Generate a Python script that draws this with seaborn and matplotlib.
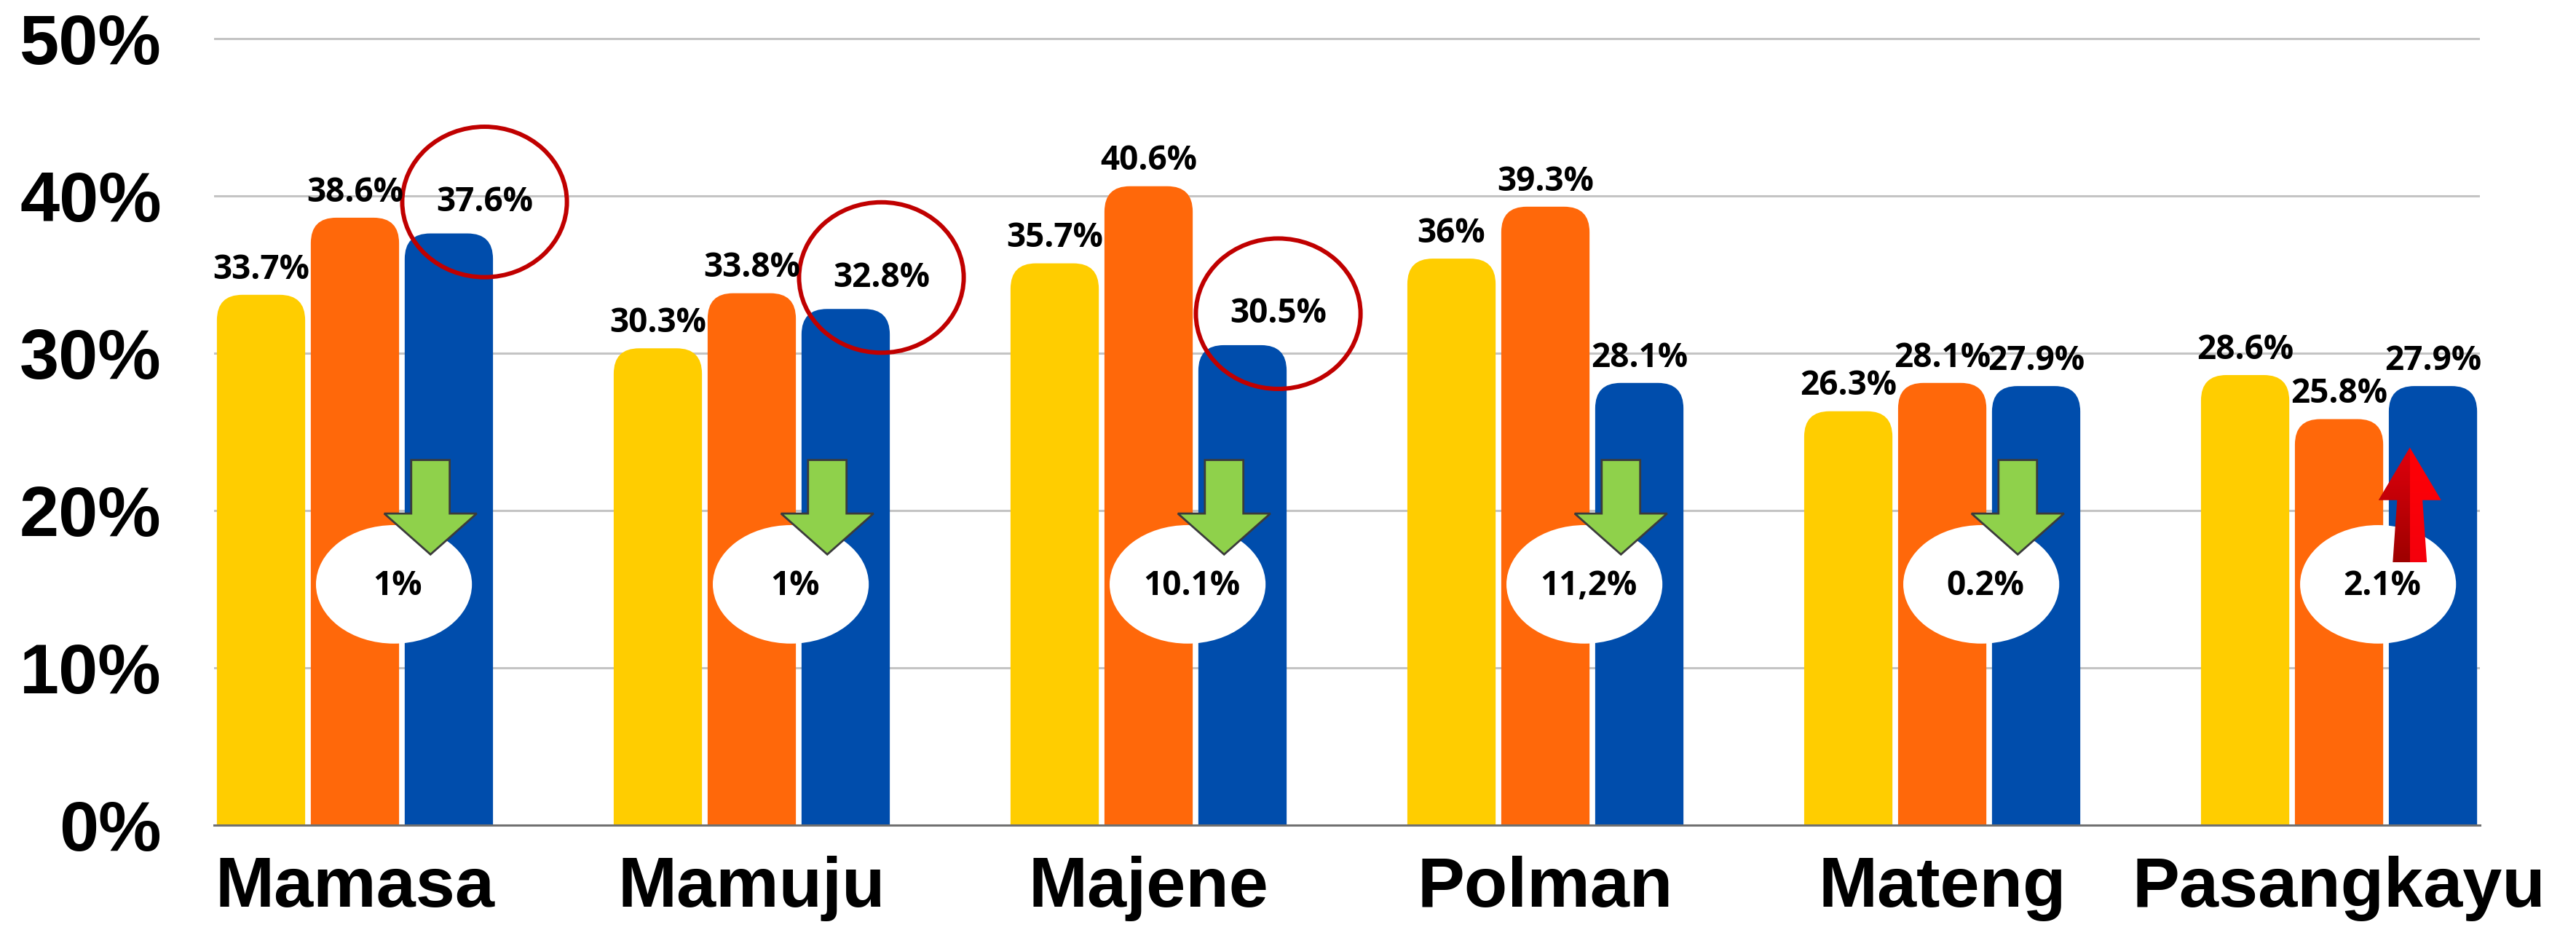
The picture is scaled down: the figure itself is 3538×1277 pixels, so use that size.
import numpy as np
import pandas as pd
import matplotlib
matplotlib.use("Agg")
import matplotlib.pyplot as plt
from matplotlib.patches import FancyBboxPatch, Ellipse, Polygon, BoxStyle
import seaborn as sns

# data
regions = ["Mamasa", "Mamuju", "Majene", "Polman", "Mateng", "Pasangkayu"]
series = ["Periode 1", "Periode 2", "Periode 3"]
vals_1 = [33.7, 30.3, 35.7, 36.0, 26.3, 28.6]
vals_2 = [38.6, 33.8, 40.6, 39.3, 28.1, 25.8]
vals_3 = [37.6, 32.8, 30.5, 28.1, 27.9, 27.9]
change_labels = ["1%", "1%", "10.1%", "11,2%", "0.2%", "2.1%"]
change_dir = ["down", "down", "down", "down", "down", "up"]
circled = ["Mamasa", "Mamuju", "Majene"]
yticks = [0, 10, 20, 30, 40, 50]
colors = ["#FFCD00", "#FF680A", "#004DAC"]

df = pd.DataFrame({
    "region": regions * 3,
    "series": np.repeat(series, len(regions)),
    "value": vals_1 + vals_2 + vals_3,
})

sns.set_theme(style="white")
plt.rcParams["font.family"] = ["Liberation Sans", "DejaVu Sans"]

fig = plt.figure(figsize=(35.38, 12.77), dpi=100)
ax = fig.add_axes([0.0831, 0.1128, 0.8796, 0.8477])

sns.barplot(data=df, x="region", y="value", hue="series", order=regions,
            hue_order=series, palette=colors, width=0.71, gap=0.06,
            saturation=1, legend=False, ax=ax)

LBL = dict(fontsize=33, fontweight="bold", family=["Open Sans", "DejaVu Sans"], color="black")

# rounded tops + labels
edges = {}
for i, cont in enumerate(ax.containers):
    for j, p in enumerate(cont.patches):
        x, w, h = p.get_x(), p.get_width(), p.get_height()
        fc = p.get_facecolor()
        p.remove()
        bar = FancyBboxPatch((x, -5), w, h + 5,
                             boxstyle=BoxStyle("Round", pad=0, rounding_size=0.064),
                             mutation_aspect=25.3, fc=fc, ec="none", zorder=2)
        ax.add_patch(bar)
        edges[(i, j)] = (x, w)
        txt = f"{h:g}%"
        if i == 2 and regions[j] in circled:
            cx, cy = x + w / 2 + 0.09, h + 2.0
            ax.text(cx, cy, txt, ha="center", va="center", zorder=6, **LBL)
            ax.add_patch(Ellipse((cx, cy), 0.415, 9.56, fill=False,
                                 ec="#C00000", lw=4.3, zorder=5))
        else:
            ax.annotate(txt, (x + w / 2, h), xytext=(0, 16), textcoords="offset points",
                        ha="center", va="baseline", zorder=6, **LBL)

# change bubbles and arrows
for j, lab in enumerate(change_labels):
    xo, wo = edges[(1, j)]
    xb, wb = edges[(2, j)]
    bx = (xo + wo + xb) / 2
    ax.add_patch(Ellipse((bx - 0.02, 15.3), 0.393, 7.53, fc="white", ec="none", zorder=4))
    ax.text(bx - 0.01, 15.2, lab, ha="center", va="center", zorder=7, **LBL)
    if change_dir[j] == "down":
        cx = bx + 0.072
        pts = [(cx - 0.0485, 23.2), (cx + 0.0485, 23.2), (cx + 0.0485, 19.8),
               (cx + 0.1165, 19.8), (cx, 17.2), (cx - 0.1165, 19.8), (cx - 0.0485, 19.8)]
        ax.add_patch(Polygon(pts, closed=True, fc="#8FD14B", ec="#3B3B3B", lw=2, zorder=5))
    else:
        cx = bx + 0.06
        pts = [(cx - 0.043, 16.7), (cx - 0.032, 20.65), (cx - 0.079, 20.65), (cx, 24.0),
               (cx + 0.079, 20.65), (cx + 0.032, 20.65), (cx + 0.043, 16.7)]
        poly = Polygon(pts, closed=True, fc="none", ec="none", zorder=5)
        ax.add_patch(poly)
        n = 60
        t = np.linspace(0, 1, n)[:, None]
        left = (1 - t) * np.array([0.88, 0.0, 0.05]) + t * np.array([0.62, 0.0, 0.0])
        right = (1 - t) * np.array([1.0, 0.0, 0.02]) + t * np.array([0.96, 0.0, 0.05])
        img = np.stack([left, right], axis=1)
        im = ax.imshow(img, extent=(cx - 0.079, cx + 0.079, 16.7, 24.0),
                       aspect="auto", interpolation="nearest", zorder=5, origin="upper")
        im.set_clip_path(poly)

# axes styling
ax.set_xlim(-0.355, 5.355)
ax.set_ylim(0, 50.1)
ax.set_yticks(yticks)
ax.set_yticklabels([f"{t}%" for t in yticks])
ax.set_xlabel("")
ax.set_ylabel("")
ax.yaxis.grid(True, color="#C4C4C4", lw=2.2)
ax.set_axisbelow(True)
for s in ["left", "right", "top"]:
    ax.spines[s].set_visible(False)
ax.spines["bottom"].set_color("#707070")
ax.spines["bottom"].set_linewidth(2.2)
ax.tick_params(axis="y", length=0, pad=52, labelsize=70, labelcolor="black")
ax.tick_params(axis="x", length=0, pad=30, labelsize=70, labelcolor="black")
for lab in ax.get_xticklabels() + ax.get_yticklabels():
    lab.set_fontweight("bold")

fig.savefig("out.png", dpi=100)
